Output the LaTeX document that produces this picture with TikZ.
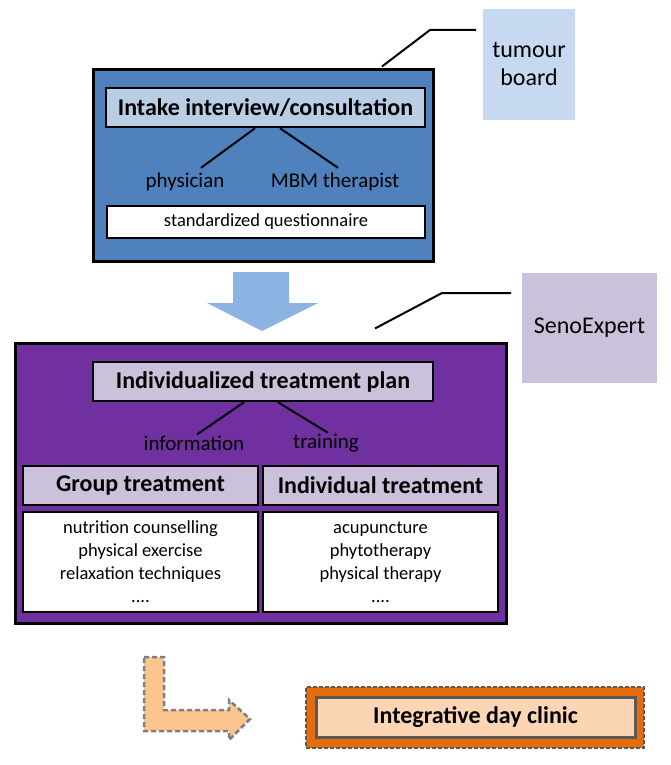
\documentclass[tikz,border=0pt]{standalone}
\usepackage{fontspec}
\setmainfont{Carlito}
\definecolor{bluebox}{HTML}{4F81BD}
\definecolor{bluehdr}{HTML}{B9CDE5}
\definecolor{bluelight}{HTML}{C6D9F1}
\definecolor{bluearrow}{HTML}{8DB3E2}
\definecolor{purplebox}{HTML}{7030A0}
\definecolor{purplelight}{HTML}{CCC1DA}
\definecolor{orangelight}{HTML}{FBC590}
\definecolor{orangebox}{HTML}{E46C0A}
\definecolor{orangepale}{HTML}{FCD5B5}
\definecolor{grayline}{HTML}{7F7F7F}
\definecolor{graydark}{HTML}{595959}
\tikzset{
  outerbox/.style={draw=black, line width=3pt, inner sep=0pt},
  hdrbox/.style={draw=black, line width=2.5pt, inner sep=0pt, font=\fontsize{24}{28}\selectfont\bfseries},
  listbox/.style={draw=black, line width=2.5pt, fill=white, inner sep=0pt, align=center, font=\fontsize{18.5}{23}\selectfont},
  sidebox/.style={inner sep=0pt, align=center, font=\fontsize{24}{28}\selectfont},
  lbl/.style={inner sep=0pt, font=\fontsize{21}{25}\selectfont},
  conn/.style={draw=black, line width=2pt},
}
\begin{document}
\begin{tikzpicture}[x=1pt,y=-1pt]
\useasboundingbox (0,0) rectangle (670,765);
% top: intake
\node[sidebox, fill=bluelight, minimum width=92pt, minimum height=111pt] (tumour) at (529,64.5) {tumour\\[0pt]board};
\node[outerbox, fill=bluebox, minimum width=340pt, minimum height=191pt] (blue) at (263,165.5) {};
\node[hdrbox, fill=bluehdr, minimum width=319pt, minimum height=39pt] (hdr1) at (265.5,107.5) {Intake interview/consultation};
\node[lbl] (phys) at (185,182) {physician};
\node[lbl] (mbm) at (335,182) {MBM therapist};
\node[listbox, minimum width=318pt, minimum height=32pt] (quest) at (266,222) {standardized questionnaire};
\draw[conn] ([xshift=-10.5pt]hdr1.south) -- ([xshift=16pt,yshift=5pt]phys.north);
\draw[conn] ([xshift=14.5pt]hdr1.south) -- ([xshift=3pt,yshift=5pt]mbm.north);
\coordinate (tbk) at (430,30);
\coordinate (tbe) at (476,30);
\draw[conn] ([xshift=119pt,yshift=2pt]blue.north) -- (tbk) -- (tbe);
% down arrow
\fill[bluearrow] (233,272) -- (289,272) -- (289,303) -- (318,303) -- (262,331) -- (207,303) -- (233,303) -- cycle;
% middle: plan
\node[sidebox, fill=purplelight, minimum width=135pt, minimum height=110pt] (seno) at (589.5,328) {SenoExpert};
\node[outerbox, fill=purplebox, minimum width=491pt, minimum height=280pt] (purple) at (260.5,483) {};
\node[hdrbox, fill=purplelight, minimum width=340pt, minimum height=39pt] (plan) at (263,381.5) {Individualized treatment plan};
\node[lbl] (info) at (194,443) {information};
\node[lbl] (train) at (326,443) {training};
\draw[conn] ([xshift=-19pt]plan.south) -- ([xshift=3pt,yshift=1pt]info.north);
\draw[conn] ([xshift=15pt]plan.south) -- ([xshift=2pt,yshift=1pt]train.north);
\node[hdrbox, fill=purplelight, minimum width=235pt, minimum height=39pt] (grph) at (140.5,485.5) {Group treatment};
\node[hdrbox, fill=purplelight, minimum width=235pt, minimum height=39pt] (indh) at (380.5,485.5) {Individual treatment};
\node[listbox, minimum width=235pt, minimum height=100pt] (grpl) at (140.5,562) {nutrition counselling\\physical exercise\\relaxation techniques\\....};
\node[listbox, minimum width=235pt, minimum height=100pt] (indl) at (380.5,562) {acupuncture\\phytotherapy\\physical therapy\\....};
\coordinate (sek) at (442,293);
\coordinate (see) at (511,293);
\draw[conn] ([xshift=114.5pt,yshift=13pt]purple.north) -- (sek) -- (see);
% bottom: day clinic
\draw[fill=orangelight, draw=grayline, line width=2.5pt, dash pattern=on 5pt off 3pt]
  (144,657) -- (164,657) -- (164,710) -- (229,710) -- (229,700) -- (250,719) -- (229,740) -- (229,731) -- (144,731) -- cycle;
\node[draw=graydark, line width=2.5pt, dash pattern=on 4pt off 2pt, fill=orangebox, minimum width=338pt, minimum height=61pt, inner sep=0pt] (clinouter) at (475,717.5) {};
\node[draw=graydark, line width=3pt, fill=orangepale, minimum width=319pt, minimum height=40pt, inner sep=0pt, font=\fontsize{24}{28}\selectfont\bfseries] (clinic) at (475.5,717) {Integrative day clinic};
\end{tikzpicture}
\end{document}
